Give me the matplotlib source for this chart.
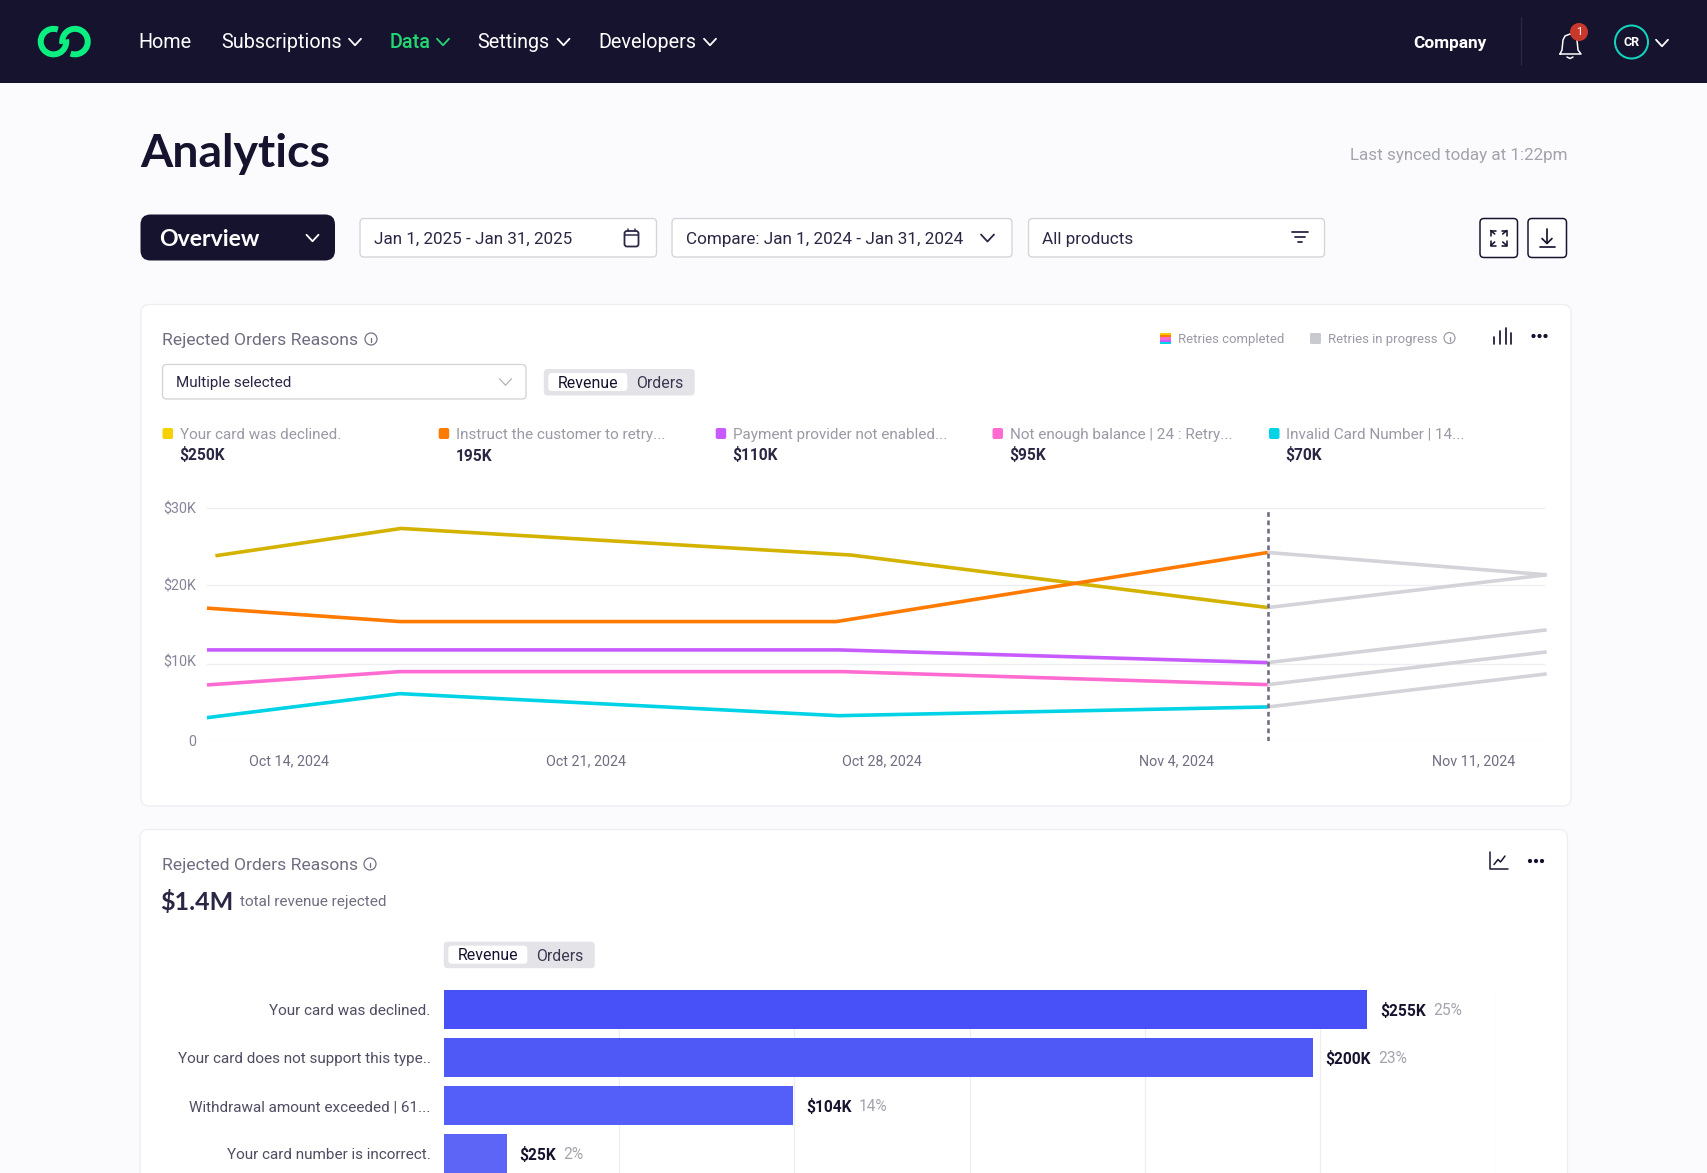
import matplotlib
matplotlib.use("Agg")
import matplotlib.pyplot as plt
from matplotlib.patches import FancyBboxPatch, Circle, Arc, Rectangle
from matplotlib.lines import Line2D
from matplotlib.transforms import ScaledTranslation

W, H = 1707, 1173
FONT = "Roboto"
TITLEFONT = "Lato"
NAVY = "#16132F"
INK = "#2A2745"
MUTED = "#6F6D80"
SOFT = "#9A99A6"
GRID = "#EEEEF2"

# ---------- data ----------
nav_items = ["Home", "Subscriptions", "Data", "Settings", "Developers"]
date_ticks = [0.03, 7.03, 14.03, 20.98, 27.98]
date_labels = ["Oct 14, 2024", "Oct 21, 2024", "Oct 28, 2024", "Nov 4, 2024", "Nov 11, 2024"]
value_ticks = [0, 9900, 20050, 30000]
value_labels = ["0", "$10K", "$20K", "$30K"]
series_names = ["Your card was declined.", "Instruct the customer to retry...",
                "Payment provider not enabled...", "Not enough balance | 24 : Retry...",
                "Invalid Card Number | 14..."]
series_totals = ["$250K", "195K", "$110K", "$95K", "$70K"]
series_colors = ["#D4B200", "#FF7A00", "#C75BFF", "#FF6BD0", "#00D3E6"]
legend_colors = ["#F7D000", "#FF7A00", "#C75BFF", "#FF6BD0", "#00D3E6"]
days_yellow = [-1.7, 2.68, 13.3, 23.12]
vals_yellow = [23810, 27330, 23900, 17145]
days_orange = [-1.9, 2.65, 12.95, 23.12]
vals_orange = [17070, 15340, 15340, 24235]
days_purple = [-1.9, 2.65, 13.0, 23.12]
vals_purple = [11690, 11690, 11690, 10055]
days_pink = [-1.9, 2.65, 13.1, 23.12]
vals_pink = [7180, 8895, 8895, 7220]
days_cyan = [-1.9, 2.65, 13.0, 23.12]
vals_cyan = [2965, 6060, 3220, 4345]
progress_days = [23.12, 29.7]
progress_yellow = [17145, 21360]
progress_orange = [24235, 21360]
progress_purple = [10055, 14270]
progress_pink = [7220, 11435]
progress_cyan = [4345, 8600]

bar_names = ["Your card was declined.", "Your card does not support this type..",
             "Withdrawal amount exceeded | 61...", "Your card number is incorrect."]
bar_lengths = [263.4, 247.8, 99.7, 17.9]
bar_amounts = ["$255K", "$200K", "$104K", "$25K"]
bar_shares = ["25%", "23%", "14%", "2%"]
bar_colors = ["#4850F8", "#4F59F6", "#545EF8", "#5C65F6"]
bar_grid = [50, 100, 150, 200, 250, 300]

# ---------- canvas ----------
plt.rcParams["font.family"] = [FONT, "DejaVu Sans"]
fig = plt.figure(figsize=(W / 100, H / 100), dpi=100, facecolor="#FBFBFE")
ui = fig.add_axes([0, 0, 1, 1], zorder=0)
ui.set_xlim(0, W)
ui.set_ylim(H, 0)
ui.axis("off")


def pt(px):
    return px * 0.72


def box(x0, y0, x1, y1, r=0, fc="white", ec="none", lw=0, z=1):
    ui.add_patch(FancyBboxPatch((x0, y0), x1 - x0, y1 - y0,
                                boxstyle=f"round,pad=0,rounding_size={r}",
                                fc=fc, ec=ec, lw=pt(lw), zorder=z))


def T(x, y, s, px=15, color=INK, weight="normal", ha="left", family=None):
    ui.text(x, y, s, fontsize=pt(px), color=color, fontweight=weight, ha=ha,
            va="center_baseline", family=family or FONT, zorder=5)


def L(xs, ys, color=INK, lw=1.5, z=4, cap="round"):
    ui.add_line(Line2D(xs, ys, color=color, lw=pt(lw), zorder=z,
                       solid_capstyle=cap, solid_joinstyle="round"))


def chev(cx, cy, w=12, h=6.5, color="white", lw=1.8):
    L([cx - w / 2, cx, cx + w / 2], [cy - h / 2, cy + h / 2, cy - h / 2], color, lw)


def info(cx, cy, r=6, color=MUTED):
    ui.add_patch(Circle((cx, cy), r, fc="none", ec=color, lw=pt(1.2), zorder=4))
    L([cx, cx], [cy - 1, cy + 3], color, 1.3)
    L([cx, cx], [cy - 3, cy - 2.8], color, 1.3)


def dots(cx, cy, color=NAVY):
    for dx in (-6, 0, 6):
        ui.add_patch(Circle((cx + dx, cy), 2.1, fc=color, ec="none", zorder=4))


def toggle(x0, y0):
    box(x0, y0, x0 + 151, y0 + 26.5, 4, fc="#E4E4E8")
    box(x0 + 4.5, y0 + 4, x0 + 83.5, y0 + 22, 3.5, fc="white", z=2)
    T(x0 + 13.5, y0 + 12.5, "Revenue", 15.9, NAVY)
    T(x0 + 92.5, y0 + 13.5, "Orders", 15.9, "#3A3850")


# ---------- nav bar ----------
ui.add_patch(Rectangle((0, 0), W, 83, fc=NAVY, ec="none", zorder=1))
ui.add_patch(Arc((53.5, 41.6), 25.5, 25.5, theta1=350, theta2=650, ec="#0BEF80", lw=pt(6), zorder=4))
ui.add_patch(Arc((75, 41.6), 25.5, 25.5, theta1=170, theta2=470, ec="#0BEF80", lw=pt(6), zorder=4))
T(138.2, 41, nav_items[0], 19.8, "white")
T(221.5, 41, nav_items[1], 19.8, "white")
chev(355, 42)
T(390, 41, nav_items[2], 19.8, "#22D672", "medium")
chev(443, 42, color="#22D672")
T(477.5, 41, nav_items[3], 19.8, "white")
chev(563.5, 42)
T(598.5, 41, nav_items[4], 19.8, "white")
chev(710, 42)
T(1413.5, 42, "Company", 17.3, "white", "bold")
L([1521, 1521], [17, 65], "#2C2A47", 1.2)
L([1560, 1562, 1563, 1565, 1570, 1575, 1577, 1578, 1581, 1560],
  [54, 50, 40, 36, 34, 36, 40, 50, 54, 54], "white", 1.5)
L([1567, 1570, 1573], [57, 58.5, 57], "white", 1.5)
ui.add_patch(Circle((1579, 32), 9, fc="#C8392B", ec="none", zorder=5))
ui.text(1579, 32, "1", fontsize=pt(11), color="white", ha="center", va="center", zorder=6)
ui.add_patch(Circle((1631.5, 42), 16.5, fc="none", ec="#12D5C0", lw=pt(2), zorder=4))
ui.text(1631.5, 42, "CR", fontsize=pt(12.5), color="white", fontweight="bold", ha="center", va="center", zorder=5)
chev(1662, 43)

# ---------- header row ----------
T(140, 150, "Analytics", 46.5, NAVY, "bold", family=TITLEFONT)
T(1567, 154, "Last synced today at 1:22pm", 17, "#A3A3AD", ha="right")
box(140.5, 214.5, 335, 260.5, 10, fc=NAVY)
T(159.5, 237, "Overview", 23, "white", "bold", family=TITLEFONT)
chev(312.5, 238, 12, 6.5)
for x0, x1 in [(360, 656.5), (672, 1012), (1028.5, 1324.5)]:
    box(x0, 218.5, x1, 257, 4, fc="white", ec="#D3D3D8", lw=1.3)
T(374.5, 238, "Jan 1, 2025 - Jan 31, 2025", 17.05)
box(624.5, 231, 638.5, 246.5, 2.5, fc="none", ec=INK, lw=1.8, z=4)
L([625, 638], [234.5, 234.5], INK, 1.5)
L([628, 628], [228.5, 231], INK, 1.5)
L([635, 635], [228.5, 231], INK, 1.5)
T(686.5, 238, "Compare: Jan 1, 2024 - Jan 31, 2024", 17.15)
chev(987.5, 238, 13, 7, INK, 1.8)
T(1042.5, 238, "All products", 17.15)
L([1292, 1308], [232, 232], INK, 1.8)
L([1295, 1305], [237, 237], INK, 1.8)
L([1298, 1302], [242, 242], INK, 1.8)
box(1480, 218.5, 1517.5, 257.5, 4, fc="white", ec=NAVY, lw=1.5)
box(1528, 218.5, 1566.5, 257.5, 4, fc="white", ec=NAVY, lw=1.5)
for sx, sy in [(-1, -1), (1, -1), (-1, 1), (1, 1)]:
    cx, cy = 1498.7 + sx * 8, 238 + sy * 7.5
    L([cx - sx * 5, cx, cx], [cy, cy, cy - sy * 5], NAVY, 1.6)
    L([cx, cx - sx * 4], [cy, cy - sy * 3.5], NAVY, 1.6)
L([1547, 1547], [229, 243], NAVY, 1.7)
L([1542, 1547, 1552], [238.5, 243.5, 238.5], NAVY, 1.7)
L([1539.5, 1555], [247, 247], NAVY, 1.7)

# ---------- card 1 ----------
box(141, 304.5, 1571, 806, 8, fc="white", ec="#EEEEF2", lw=1.3)
T(162.5, 339, "Rejected Orders Reasons", 17.5, MUTED)
info(371, 339)
box(162.5, 364.5, 526, 399, 4, fc="white", ec="#D3D3D8", lw=1.3, z=2)
T(175.5, 382, "Multiple selected", 15.2)
chev(505.5, 382, 12, 6.5, "#B4B4BD", 1.3)
toggle(543.8, 369)
legend_boxes = [162.5, 438.7, 715.7, 992.5, 1269]
for bx, name, total, col in zip(legend_boxes, series_names, series_totals, legend_colors):
    box(bx, 428, bx + 10.5, 439, 2, fc=col, z=3)
    T(bx + 17.5, 433.5, name, 15.2, SOFT)
    dollar = total.startswith("$")
    T(bx + (16.5 if dollar else 17.5), 453.5 if dollar else 455, total, 15.5, INK, "bold")

stack = ["#FFC800", "#FF7A00", "#FF6BD0", "#C75BFF", "#00D3E6"]
for i, c in enumerate(stack):
    ui.add_patch(Rectangle((1160, 333 + i * 2.2), 10.5, 2.2, fc=c, ec="none", zorder=3))
T(1177.5, 338, "Retries completed", 13.1, SOFT)
box(1310, 333, 1321, 344, 1.5, fc="#C9C9D0", z=3)
T(1328, 338, "Retries in progress", 13.1, SOFT)
info(1449.5, 338, 5.5, SOFT)
for bxp, top in [(1494, 337), (1499.5, 331), (1505.5, 328), (1511, 333)]:
    L([bxp, bxp], [top, 344], NAVY, 1.7)
dots(1539.5, 336)


def panel(x0, y0, x1, y1):
    a = fig.add_axes([x0 / W, 1 - y1 / H, (x1 - x0) / W, (y1 - y0) / H], zorder=2)
    a.patch.set_alpha(0)
    for s in a.spines.values():
        s.set_visible(False)
    return a


ax = panel(206.5, 507.7, 1545, 740.7)
ax.set_xlim(-1.91, 29.66)
ax.set_ylim(0, 30000)
ax.set_yticks(value_ticks, value_labels)
ax.set_xticks(date_ticks, date_labels)
ax.tick_params(length=0, labelsize=pt(14.2), labelcolor="#85849A", labelfontfamily=FONT)
ax.tick_params(axis="x", pad=pt(14), labelcolor=MUTED)
ax.tick_params(axis="y", pad=pt(10))
ax.grid(axis="y", color=GRID, lw=pt(1.3))
ax.set_axisbelow(True)
lab10 = ax.get_yticklabels()[1]
lab10.set_transform(lab10.get_transform() + ScaledTranslation(0, pt(3) / 72, fig.dpi_scale_trans))
solid_days = [days_yellow, days_orange, days_purple, days_pink, days_cyan]
solid_vals = [vals_yellow, vals_orange, vals_purple, vals_pink, vals_cyan]
progress_vals = [progress_yellow, progress_orange, progress_purple, progress_pink, progress_cyan]
for d, v, p, c in zip(solid_days, solid_vals, progress_vals, series_colors):
    ax.plot(progress_days, p, color="#D5D3DA", lw=pt(3.6), clip_on=False,
            solid_capstyle="butt", zorder=3)
    ax.plot(d, v, color=c, lw=pt(3.6), clip_on=False, solid_capstyle="butt",
            solid_joinstyle="round", zorder=4)
ax.axvline(23.12, color=MUTED, lw=pt(2.6), dashes=(1.8, 1.4), zorder=5)

# ---------- card 2 ----------
box(140, 829.5, 1567.5, 1220, 8, fc="white", ec="#EEEEF2", lw=1.3)
T(162, 864, "Rejected Orders Reasons", 17.5, MUTED)
info(370, 864)
T(160.5, 900, "$1.4M", 25, INK, "bold", family=TITLEFONT)
T(240.5, 900.5, "total revenue rejected", 15.2, MUTED)
toggle(443.8, 941.7)
L([1490, 1490, 1507.5], [852, 869, 869], NAVY, 1.5)
L([1494, 1498, 1500.5, 1505], [864.5, 859.5, 862, 856], NAVY, 1.5)
dots(1536, 861)

bx_ax = panel(443.8, 990, 1495.5, 1173)
bx_ax.set_xlim(0, 300)
bx_ax.set_ylim(3.404, -0.408)
rows = list(range(len(bar_names)))
bars = bx_ax.barh(rows, bar_lengths, height=0.8125, color=bar_colors, zorder=3)
bx_ax.set_yticks(rows, bar_names)
bx_ax.set_xticks(bar_grid, [""] * len(bar_grid))
bx_ax.tick_params(length=0)
bx_ax.tick_params(axis="y", pad=pt(13), labelsize=pt(15.2), labelcolor="#4F4D63", labelfontfamily=FONT)
bx_ax.grid(axis="x", color=GRID, lw=pt(1.2))
bx_ax.set_axisbelow(True)
for r, v, amt, share in zip(rows, bar_lengths, bar_amounts, bar_shares):
    lab = bx_ax.annotate(amt, xy=(v, r), xytext=(pt(13), pt(-1)), textcoords="offset points",
                         va="center", ha="left", fontsize=pt(15.5), color=NAVY,
                         fontweight="bold", family=FONT, annotation_clip=False)
    bx_ax.annotate(share, xy=(1, 0.5), xycoords=lab, xytext=(pt(7), 0),
                   textcoords="offset points", va="center", ha="left",
                   fontsize=pt(15.5), color="#A3A3AD", family=FONT, annotation_clip=False)

fig.savefig("out.png", dpi=100, facecolor=fig.get_facecolor())
